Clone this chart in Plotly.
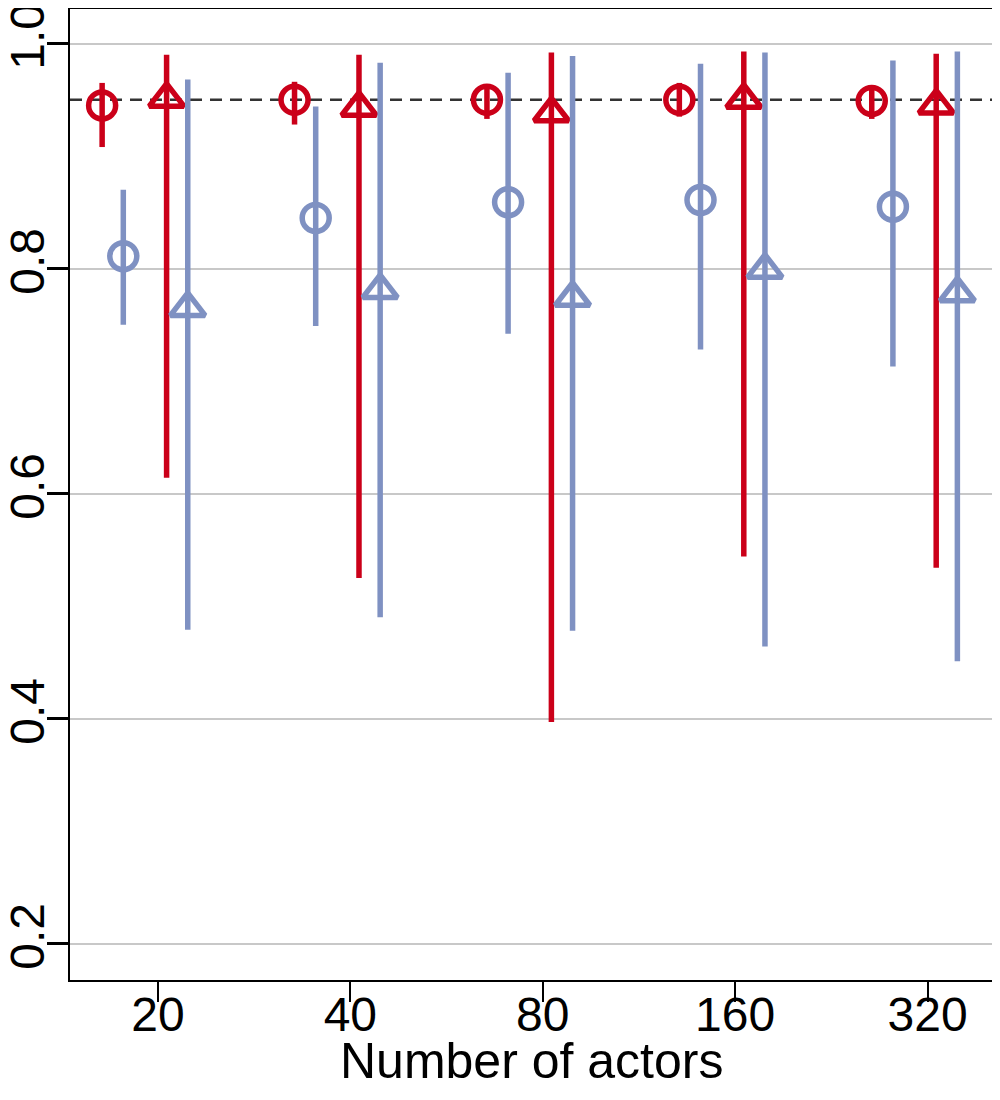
import numpy as np
import plotly.graph_objects as go

# categories
actors = ['20', '40', '80', '160', '320']

# red circles: estimate, lower, upper
red_circ = [0.945, 0.950, 0.950, 0.950, 0.949]
red_circ_lo = [0.908, 0.928, 0.933, 0.935, 0.933]
red_circ_hi = [0.965, 0.966, 0.964, 0.965, 0.963]

# blue circles
blue_circ = [0.811, 0.845, 0.859, 0.861, 0.855]
blue_circ_lo = [0.750, 0.749, 0.742, 0.728, 0.713]
blue_circ_hi = [0.870, 0.944, 0.974, 0.982, 0.985]

# red triangles
red_tri = [0.951, 0.943, 0.938, 0.950, 0.945]
red_tri_lo = [0.614, 0.525, 0.397, 0.544, 0.534]
red_tri_hi = [0.990, 0.990, 0.992, 0.993, 0.991]

# blue triangles
blue_tri = [0.765, 0.781, 0.774, 0.799, 0.778]
blue_tri_lo = [0.479, 0.490, 0.478, 0.464, 0.451]
blue_tri_hi = [0.968, 0.983, 0.989, 0.992, 0.993]

nominal = 0.95

RED = '#CB0019'
BLUE = '#7F91C2'
FONT = 'Liberation Sans, Arial, Helvetica, sans-serif'

idx = np.arange(len(actors))

series = [
    (red_circ, red_circ_lo, red_circ_hi, -0.29, 'circle-open', RED, 27),
    (blue_circ, blue_circ_lo, blue_circ_hi, -0.18, 'circle-open', BLUE, 27),
    (red_tri, red_tri_lo, red_tri_hi, 0.045, 'triangle-up-open', RED, 30),
    (blue_tri, blue_tri_lo, blue_tri_hi, 0.155, 'triangle-up-open', BLUE, 30),
]

fig = go.Figure()

for est, lo, hi, off, sym, col, size in series:
    est = np.array(est)
    fig.add_trace(go.Scatter(
        x=idx + off, y=est, mode='markers',
        marker=dict(symbol=sym, size=size, color=col, line=dict(width=5.5, color=col)),
        error_y=dict(type='data', symmetric=False,
                     array=np.array(hi) - est, arrayminus=est - np.array(lo),
                     width=0, thickness=5.5, color=col),
        showlegend=False,
    ))

fig.add_hline(y=nominal, line=dict(color='#333333', width=2.5, dash='12px,8px'), layer='below')

# x-axis title as an annotation so it sits just under the tick labels
fig.add_annotation(text='Number of actors', xref='paper', yref='paper',
                   x=0.5, y=-0.1143, xanchor='center', yanchor='bottom',
                   showarrow=False, font=dict(size=50))

# page body adds an 8px offset, so the figure is sized to fit what is left
fig.update_layout(
    width=992, height=1092,
    margin=dict(l=62, r=8, t=1, b=120),
    plot_bgcolor='white', paper_bgcolor='white',
    font=dict(family=FONT, color='black', size=48),
)

fig.update_xaxes(
    range=[-0.457, 4.335],
    tickvals=idx, ticktext=actors,
    ticks='outside', ticklen=20, tickwidth=1.5, tickcolor='black',
    tickfont=dict(size=48), ticklabelstandoff=-29,
    showline=True, linewidth=2, linecolor='black', mirror=True,
    showgrid=False, zeroline=False, automargin=False,
)

fig.update_yaxes(
    range=[0.1676, 1.0307],
    tickvals=[0.2, 0.4, 0.6, 0.8, 1.0], ticktext=['0.2', '0.4', '0.6', '0.8', '1.0'],
    tickangle=-90, ticklabeloverflow='allow',
    ticks='outside', ticklen=21, tickwidth=2.5, tickcolor='black',
    tickfont=dict(size=48), ticklabelstandoff=-16,
    showline=True, linewidth=2, linecolor='black', mirror=True,
    showgrid=True, gridcolor='#C8C8C8', gridwidth=2, zeroline=False, automargin=False,
)

fig.write_html("out.html")
